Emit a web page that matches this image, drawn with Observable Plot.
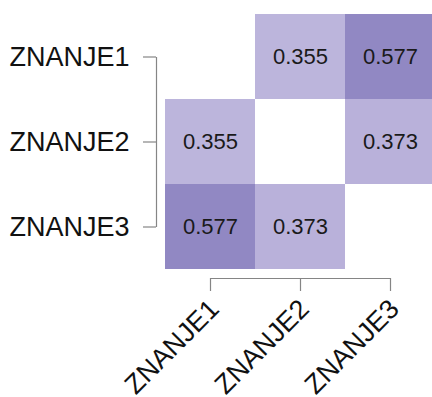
<!DOCTYPE html>
<html>
<head>
<meta charset="utf-8">
<script src="https://cdn.jsdelivr.net/npm/d3@7"></script>
<script src="https://cdn.jsdelivr.net/npm/@observablehq/plot@0.6"></script>
<style>
  html, body { margin: 0; padding: 0; background: #fff; overflow: hidden; }
  svg { display: block; }
</style>
</head>
<body>
<div id="chart"></div>
<script>
const vars = ["ZNANJE1", "ZNANJE2", "ZNANJE3"];
const matrix = [
  [null, 0.355, 0.577],
  [0.355, null, 0.373],
  [0.577, 0.373, null]
];

const cells = [];
vars.forEach((r, i) => vars.forEach((c, j) => {
  if (matrix[i][j] != null) cells.push({row: r, col: c, value: matrix[i][j]});
}));

const axisColor = "#858585";
const font = "'Liberation Sans', Arial, sans-serif";

const chart = Plot.plot({
  width: 432,
  height: 397,
  marginLeft: 165,
  marginRight: -3,
  marginTop: 13,
  marginBottom: 128,
  style: {fontFamily: font, background: "#fff"},
  x: {domain: vars, padding: 0, axis: null},
  y: {domain: vars, padding: 0, axis: null},
  color: {type: "linear", domain: [0.355, 0.577], range: ["#bcb5dc", "#9188c3"]},
  marks: [
    Plot.cell(cells, {x: "col", y: "row", fill: "value"}),
    Plot.text(cells, {x: "col", y: "row", text: d => d.value.toFixed(3), fontSize: 22, fill: "#1a1a1a"}),
    Plot.axisY(vars, {anchor: "left", tickSize: 13, dx: -9, tickPadding: 14, fontSize: 27, fill: "#111", stroke: axisColor, strokeWidth: 1.2, label: null}),
    Plot.link([0], {x1: () => vars[0], x2: () => vars[0], y1: () => vars[0], y2: () => vars[2], dx: -54, stroke: axisColor, strokeWidth: 1.2}),
    Plot.axisX(vars, {anchor: "bottom", tickSize: 13, dy: 9, tickFormat: () => "", stroke: axisColor, strokeWidth: 1.2, label: null}),
    Plot.link([0], {x1: () => vars[0], x2: () => vars[2], y1: () => vars[2], y2: () => vars[2], dy: 51.5, stroke: axisColor, strokeWidth: 1.2}),
    Plot.text(vars, {x: d => d, frameAnchor: "bottom", text: d => d, rotate: -45, textAnchor: "end", lineAnchor: "middle", dx: 4, dy: 35, fontSize: 27, fill: "#111"})
  ]
});
document.getElementById("chart").appendChild(chart);
</script>
</body>
</html>
